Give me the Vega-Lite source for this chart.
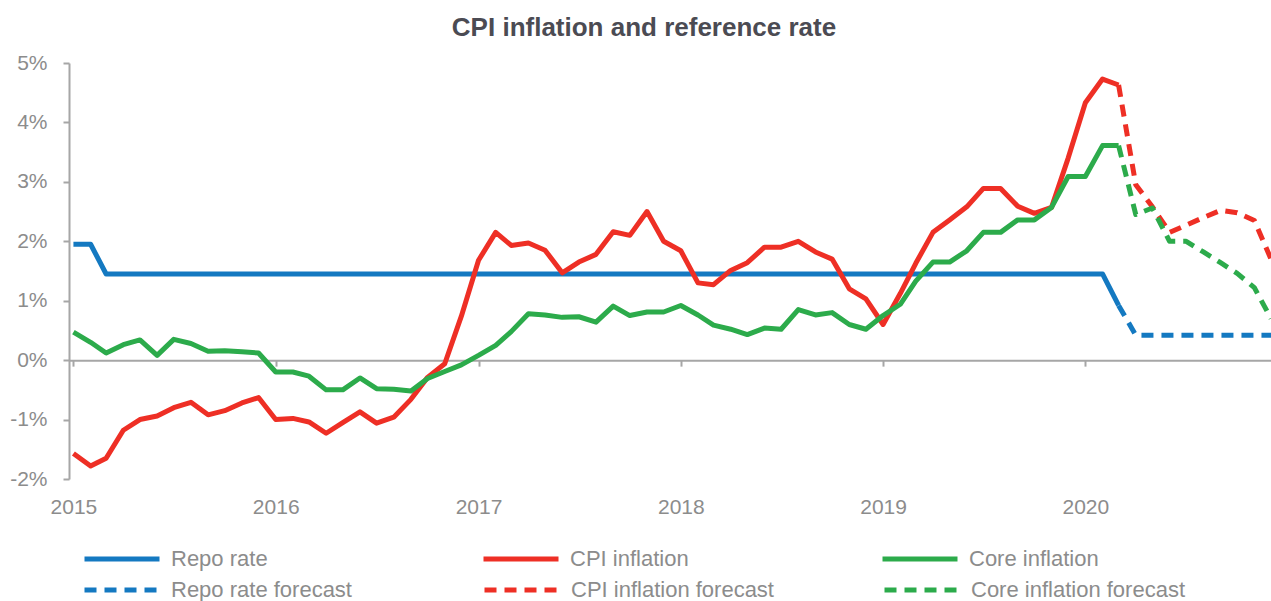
{
  "$schema": "https://vega.github.io/schema/vega-lite/v6.json",
  "width": 1202,
  "height": 416,
  "autosize": {"type": "none"},
  "padding": {"left": 69, "top": 63, "right": 0, "bottom": 122},
  "background": "white",
  "config": {"view": {"stroke": null}, "font": "Liberation Sans"},
  "title": {"text": "CPI inflation and reference rate", "anchor": "middle", "font": "Liberation Sans", "fontSize": 26, "fontWeight": "bold", "color": "#4b4b53", "offset": 11, "dx": -26},
  "data": {"values": [
    {"d":"2015/01/01","s":"Repo rate","v":1.95},{"d":"2015/02/01","s":"Repo rate","v":1.95},{"d":"2015/03/01","s":"Repo rate","v":1.45},{"d":"2015/04/01","s":"Repo rate","v":1.45},{"d":"2015/05/01","s":"Repo rate","v":1.45},{"d":"2015/06/01","s":"Repo rate","v":1.45},{"d":"2015/07/01","s":"Repo rate","v":1.45},{"d":"2015/08/01","s":"Repo rate","v":1.45},{"d":"2015/09/01","s":"Repo rate","v":1.45},{"d":"2015/10/01","s":"Repo rate","v":1.45},{"d":"2015/11/01","s":"Repo rate","v":1.45},{"d":"2015/12/01","s":"Repo rate","v":1.45},
    {"d":"2016/01/01","s":"Repo rate","v":1.45},{"d":"2016/02/01","s":"Repo rate","v":1.45},{"d":"2016/03/01","s":"Repo rate","v":1.45},{"d":"2016/04/01","s":"Repo rate","v":1.45},{"d":"2016/05/01","s":"Repo rate","v":1.45},{"d":"2016/06/01","s":"Repo rate","v":1.45},{"d":"2016/07/01","s":"Repo rate","v":1.45},{"d":"2016/08/01","s":"Repo rate","v":1.45},{"d":"2016/09/01","s":"Repo rate","v":1.45},{"d":"2016/10/01","s":"Repo rate","v":1.45},{"d":"2016/11/01","s":"Repo rate","v":1.45},{"d":"2016/12/01","s":"Repo rate","v":1.45},
    {"d":"2017/01/01","s":"Repo rate","v":1.45},{"d":"2017/02/01","s":"Repo rate","v":1.45},{"d":"2017/03/01","s":"Repo rate","v":1.45},{"d":"2017/04/01","s":"Repo rate","v":1.45},{"d":"2017/05/01","s":"Repo rate","v":1.45},{"d":"2017/06/01","s":"Repo rate","v":1.45},{"d":"2017/07/01","s":"Repo rate","v":1.45},{"d":"2017/08/01","s":"Repo rate","v":1.45},{"d":"2017/09/01","s":"Repo rate","v":1.45},{"d":"2017/10/01","s":"Repo rate","v":1.45},{"d":"2017/11/01","s":"Repo rate","v":1.45},{"d":"2017/12/01","s":"Repo rate","v":1.45},
    {"d":"2018/01/01","s":"Repo rate","v":1.45},{"d":"2018/02/01","s":"Repo rate","v":1.45},{"d":"2018/03/01","s":"Repo rate","v":1.45},{"d":"2018/04/01","s":"Repo rate","v":1.45},{"d":"2018/05/01","s":"Repo rate","v":1.45},{"d":"2018/06/01","s":"Repo rate","v":1.45},{"d":"2018/07/01","s":"Repo rate","v":1.45},{"d":"2018/08/01","s":"Repo rate","v":1.45},{"d":"2018/09/01","s":"Repo rate","v":1.45},{"d":"2018/10/01","s":"Repo rate","v":1.45},{"d":"2018/11/01","s":"Repo rate","v":1.45},{"d":"2018/12/01","s":"Repo rate","v":1.45},
    {"d":"2019/01/01","s":"Repo rate","v":1.45},{"d":"2019/02/01","s":"Repo rate","v":1.45},{"d":"2019/03/01","s":"Repo rate","v":1.45},{"d":"2019/04/01","s":"Repo rate","v":1.45},{"d":"2019/05/01","s":"Repo rate","v":1.45},{"d":"2019/06/01","s":"Repo rate","v":1.45},{"d":"2019/07/01","s":"Repo rate","v":1.45},{"d":"2019/08/01","s":"Repo rate","v":1.45},{"d":"2019/09/01","s":"Repo rate","v":1.45},{"d":"2019/10/01","s":"Repo rate","v":1.45},{"d":"2019/11/01","s":"Repo rate","v":1.45},{"d":"2019/12/01","s":"Repo rate","v":1.45},
    {"d":"2020/01/01","s":"Repo rate","v":1.45},{"d":"2020/02/01","s":"Repo rate","v":1.45},{"d":"2020/03/01","s":"Repo rate","v":0.92},
    {"d":"2020/03/01","s":"Repo rate forecast","v":0.92},{"d":"2020/04/01","s":"Repo rate forecast","v":0.42},{"d":"2020/05/01","s":"Repo rate forecast","v":0.42},{"d":"2020/06/01","s":"Repo rate forecast","v":0.42},{"d":"2020/07/01","s":"Repo rate forecast","v":0.42},{"d":"2020/08/01","s":"Repo rate forecast","v":0.42},{"d":"2020/09/01","s":"Repo rate forecast","v":0.42},{"d":"2020/10/01","s":"Repo rate forecast","v":0.42},{"d":"2020/11/01","s":"Repo rate forecast","v":0.42},{"d":"2020/12/01","s":"Repo rate forecast","v":0.42},
    {"d":"2015/01/01","s":"CPI inflation","v":-1.57},{"d":"2015/02/01","s":"CPI inflation","v":-1.78},{"d":"2015/03/01","s":"CPI inflation","v":-1.65},{"d":"2015/04/01","s":"CPI inflation","v":-1.18},{"d":"2015/05/01","s":"CPI inflation","v":-1.0},{"d":"2015/06/01","s":"CPI inflation","v":-0.94},{"d":"2015/07/01","s":"CPI inflation","v":-0.8},{"d":"2015/08/01","s":"CPI inflation","v":-0.71},{"d":"2015/09/01","s":"CPI inflation","v":-0.92},{"d":"2015/10/01","s":"CPI inflation","v":-0.85},{"d":"2015/11/01","s":"CPI inflation","v":-0.72},{"d":"2015/12/01","s":"CPI inflation","v":-0.63},
    {"d":"2016/01/01","s":"CPI inflation","v":-1.0},{"d":"2016/02/01","s":"CPI inflation","v":-0.98},{"d":"2016/03/01","s":"CPI inflation","v":-1.04},{"d":"2016/04/01","s":"CPI inflation","v":-1.23},{"d":"2016/05/01","s":"CPI inflation","v":-1.05},{"d":"2016/06/01","s":"CPI inflation","v":-0.87},{"d":"2016/07/01","s":"CPI inflation","v":-1.06},{"d":"2016/08/01","s":"CPI inflation","v":-0.96},{"d":"2016/09/01","s":"CPI inflation","v":-0.66},{"d":"2016/10/01","s":"CPI inflation","v":-0.29},{"d":"2016/11/01","s":"CPI inflation","v":-0.06},{"d":"2016/12/01","s":"CPI inflation","v":0.74},
    {"d":"2017/01/01","s":"CPI inflation","v":1.68},{"d":"2017/02/01","s":"CPI inflation","v":2.15},{"d":"2017/03/01","s":"CPI inflation","v":1.93},{"d":"2017/04/01","s":"CPI inflation","v":1.97},{"d":"2017/05/01","s":"CPI inflation","v":1.85},{"d":"2017/06/01","s":"CPI inflation","v":1.47},{"d":"2017/07/01","s":"CPI inflation","v":1.65},{"d":"2017/08/01","s":"CPI inflation","v":1.78},{"d":"2017/09/01","s":"CPI inflation","v":2.16},{"d":"2017/10/01","s":"CPI inflation","v":2.1},{"d":"2017/11/01","s":"CPI inflation","v":2.5},{"d":"2017/12/01","s":"CPI inflation","v":2.0},
    {"d":"2018/01/01","s":"CPI inflation","v":1.84},{"d":"2018/02/01","s":"CPI inflation","v":1.3},{"d":"2018/03/01","s":"CPI inflation","v":1.27},{"d":"2018/04/01","s":"CPI inflation","v":1.51},{"d":"2018/05/01","s":"CPI inflation","v":1.64},{"d":"2018/06/01","s":"CPI inflation","v":1.9},{"d":"2018/07/01","s":"CPI inflation","v":1.9},{"d":"2018/08/01","s":"CPI inflation","v":2.0},{"d":"2018/09/01","s":"CPI inflation","v":1.82},{"d":"2018/10/01","s":"CPI inflation","v":1.7},{"d":"2018/11/01","s":"CPI inflation","v":1.2},{"d":"2018/12/01","s":"CPI inflation","v":1.03},
    {"d":"2019/01/01","s":"CPI inflation","v":0.6},{"d":"2019/02/01","s":"CPI inflation","v":1.12},{"d":"2019/03/01","s":"CPI inflation","v":1.63},{"d":"2019/04/01","s":"CPI inflation","v":2.15},{"d":"2019/05/01","s":"CPI inflation","v":2.36},{"d":"2019/06/01","s":"CPI inflation","v":2.58},{"d":"2019/07/01","s":"CPI inflation","v":2.89},{"d":"2019/08/01","s":"CPI inflation","v":2.89},{"d":"2019/09/01","s":"CPI inflation","v":2.59},{"d":"2019/10/01","s":"CPI inflation","v":2.47},{"d":"2019/11/01","s":"CPI inflation","v":2.57},{"d":"2019/12/01","s":"CPI inflation","v":3.4},
    {"d":"2020/01/01","s":"CPI inflation","v":4.33},{"d":"2020/02/01","s":"CPI inflation","v":4.73},{"d":"2020/03/01","s":"CPI inflation","v":4.63},
    {"d":"2020/03/01","s":"CPI inflation forecast","v":4.63},{"d":"2020/04/01","s":"CPI inflation forecast","v":2.95},{"d":"2020/05/01","s":"CPI inflation forecast","v":2.58},{"d":"2020/06/01","s":"CPI inflation forecast","v":2.15},{"d":"2020/07/01","s":"CPI inflation forecast","v":2.27},{"d":"2020/08/01","s":"CPI inflation forecast","v":2.4},{"d":"2020/09/01","s":"CPI inflation forecast","v":2.52},{"d":"2020/10/01","s":"CPI inflation forecast","v":2.48},{"d":"2020/11/01","s":"CPI inflation forecast","v":2.35},{"d":"2020/12/01","s":"CPI inflation forecast","v":1.7},
    {"d":"2015/01/01","s":"Core inflation","v":0.47},{"d":"2015/02/01","s":"Core inflation","v":0.3},{"d":"2015/03/01","s":"Core inflation","v":0.12},{"d":"2015/04/01","s":"Core inflation","v":0.26},{"d":"2015/05/01","s":"Core inflation","v":0.34},{"d":"2015/06/01","s":"Core inflation","v":0.08},{"d":"2015/07/01","s":"Core inflation","v":0.35},{"d":"2015/08/01","s":"Core inflation","v":0.28},{"d":"2015/09/01","s":"Core inflation","v":0.15},{"d":"2015/10/01","s":"Core inflation","v":0.16},{"d":"2015/11/01","s":"Core inflation","v":0.14},{"d":"2015/12/01","s":"Core inflation","v":0.12},
    {"d":"2016/01/01","s":"Core inflation","v":-0.2},{"d":"2016/02/01","s":"Core inflation","v":-0.2},{"d":"2016/03/01","s":"Core inflation","v":-0.27},{"d":"2016/04/01","s":"Core inflation","v":-0.5},{"d":"2016/05/01","s":"Core inflation","v":-0.5},{"d":"2016/06/01","s":"Core inflation","v":-0.3},{"d":"2016/07/01","s":"Core inflation","v":-0.48},{"d":"2016/08/01","s":"Core inflation","v":-0.49},{"d":"2016/09/01","s":"Core inflation","v":-0.52},{"d":"2016/10/01","s":"Core inflation","v":-0.31},{"d":"2016/11/01","s":"Core inflation","v":-0.19},{"d":"2016/12/01","s":"Core inflation","v":-0.08},
    {"d":"2017/01/01","s":"Core inflation","v":0.08},{"d":"2017/02/01","s":"Core inflation","v":0.25},{"d":"2017/03/01","s":"Core inflation","v":0.48},{"d":"2017/04/01","s":"Core inflation","v":0.78},{"d":"2017/05/01","s":"Core inflation","v":0.76},{"d":"2017/06/01","s":"Core inflation","v":0.72},{"d":"2017/07/01","s":"Core inflation","v":0.73},{"d":"2017/08/01","s":"Core inflation","v":0.64},{"d":"2017/09/01","s":"Core inflation","v":0.91},{"d":"2017/10/01","s":"Core inflation","v":0.75},{"d":"2017/11/01","s":"Core inflation","v":0.81},{"d":"2017/12/01","s":"Core inflation","v":0.81},
    {"d":"2018/01/01","s":"Core inflation","v":0.92},{"d":"2018/02/01","s":"Core inflation","v":0.76},{"d":"2018/03/01","s":"Core inflation","v":0.59},{"d":"2018/04/01","s":"Core inflation","v":0.52},{"d":"2018/05/01","s":"Core inflation","v":0.43},{"d":"2018/06/01","s":"Core inflation","v":0.54},{"d":"2018/07/01","s":"Core inflation","v":0.52},{"d":"2018/08/01","s":"Core inflation","v":0.85},{"d":"2018/09/01","s":"Core inflation","v":0.76},{"d":"2018/10/01","s":"Core inflation","v":0.8},{"d":"2018/11/01","s":"Core inflation","v":0.6},{"d":"2018/12/01","s":"Core inflation","v":0.52},
    {"d":"2019/01/01","s":"Core inflation","v":0.75},{"d":"2019/02/01","s":"Core inflation","v":0.94},{"d":"2019/03/01","s":"Core inflation","v":1.33},{"d":"2019/04/01","s":"Core inflation","v":1.65},{"d":"2019/05/01","s":"Core inflation","v":1.65},{"d":"2019/06/01","s":"Core inflation","v":1.84},{"d":"2019/07/01","s":"Core inflation","v":2.15},{"d":"2019/08/01","s":"Core inflation","v":2.15},{"d":"2019/09/01","s":"Core inflation","v":2.36},{"d":"2019/10/01","s":"Core inflation","v":2.36},{"d":"2019/11/01","s":"Core inflation","v":2.57},{"d":"2019/12/01","s":"Core inflation","v":3.09},
    {"d":"2020/01/01","s":"Core inflation","v":3.09},{"d":"2020/02/01","s":"Core inflation","v":3.61},{"d":"2020/03/01","s":"Core inflation","v":3.61},
    {"d":"2020/03/01","s":"Core inflation forecast","v":3.61},{"d":"2020/04/01","s":"Core inflation forecast","v":2.45},{"d":"2020/05/01","s":"Core inflation forecast","v":2.56},{"d":"2020/06/01","s":"Core inflation forecast","v":2.0},{"d":"2020/07/01","s":"Core inflation forecast","v":2.0},{"d":"2020/08/01","s":"Core inflation forecast","v":1.82},{"d":"2020/09/01","s":"Core inflation forecast","v":1.64},{"d":"2020/10/01","s":"Core inflation forecast","v":1.46},{"d":"2020/11/01","s":"Core inflation forecast","v":1.22},{"d":"2020/12/01","s":"Core inflation forecast","v":0.7}
  ]},
  "layer": [
    {
      "mark": {"type": "line", "opacity": 0},
      "encoding": {
        "x": {"field": "d", "type": "temporal",
          "scale": {"domain": [{"year": 2014, "month": 12, "date": 24}, {"year": 2020, "month": 12, "date": 1}]},
          "axis": {"orient": "bottom", "title": null, "values": [{"year": 2015, "month": 1, "date": 1}, {"year": 2016, "month": 1, "date": 1}, {"year": 2017, "month": 1, "date": 1}, {"year": 2018, "month": 1, "date": 1}, {"year": 2019, "month": 1, "date": 1}, {"year": 2020, "month": 1, "date": 1}],
            "labels": false, "grid": false, "domain": true, "domainColor": "#a6a6a6", "domainWidth": 2, "ticks": true, "tickColor": "#a6a6a6", "tickWidth": 2, "tickSize": 6, "offset": -118.86}},
        "y": {"field": "v", "type": "quantitative"},
        "detail": {"field": "s", "type": "nominal"}
      }
    },
    {
      "transform": [{"filter": {"field": "s", "oneOf": ["Repo rate", "CPI inflation", "Core inflation"]}}],
      "mark": {"type": "line", "strokeWidth": 5, "strokeJoin": "round", "strokeCap": "butt"},
      "encoding": {
        "x": {"field": "d", "type": "temporal",
          "axis": {"orient": "bottom", "title": null, "values": [{"year": 2015, "month": 1, "date": 1}, {"year": 2016, "month": 1, "date": 1}, {"year": 2017, "month": 1, "date": 1}, {"year": 2018, "month": 1, "date": 1}, {"year": 2019, "month": 1, "date": 1}, {"year": 2020, "month": 1, "date": 1}],
            "format": "%Y", "labelFlush": false, "labelOverlap": false, "grid": false, "domain": false, "ticks": false, "labelFontSize": 21, "labelColor": "#8c8c8c", "labelPadding": 17, "labelFont": "Liberation Sans"}},
        "y": {"field": "v", "type": "quantitative",
          "scale": {"domain": [-2, 5], "nice": false, "zero": false},
          "axis": {"title": null, "values": [-2, -1, 0, 1, 2, 3, 4, 5], "labelExpr": "datum.value + '%'", "grid": false, "domainColor": "#a6a6a6", "domainWidth": 2, "tickColor": "#a6a6a6", "tickWidth": 2, "tickSize": 6, "labelFontSize": 21, "labelColor": "#8c8c8c", "labelPadding": 16, "labelFont": "Liberation Sans"}},
        "color": {"field": "s", "type": "nominal",
          "scale": {"domain": ["Repo rate", "CPI inflation", "Core inflation"], "range": ["#1479c1", "#ee2f25", "#2cab4b"]},
          "legend": {"orient": "none", "legendX": 13, "legendY": 456, "direction": "horizontal", "columns": 3, "title": null, "symbolType": "stroke", "symbolSize": 5625, "symbolStrokeWidth": 5, "labelFontSize": 22, "labelColor": "#8c8c8c", "labelFont": "Liberation Sans", "labelOffset": 9, "columnPadding": 172, "gridAlign": "all", "labelLimit": 400}}
      }
    },
    {
      "transform": [{"filter": {"field": "s", "oneOf": ["Repo rate forecast", "CPI inflation forecast", "Core inflation forecast"]}}],
      "mark": {"type": "line", "strokeWidth": 5, "strokeJoin": "round", "strokeCap": "butt", "strokeDash": [12, 8]},
      "encoding": {
        "x": {"field": "d", "type": "temporal", "axis": null},
        "y": {"field": "v", "type": "quantitative"},
        "color": {"field": "s", "type": "nominal",
          "scale": {"domain": ["Repo rate forecast", "CPI inflation forecast", "Core inflation forecast"], "range": ["#1479c1", "#ee2f25", "#2cab4b"]},
          "legend": {"orient": "none", "legendX": 13, "legendY": 487, "direction": "horizontal", "columns": 3, "title": null, "symbolType": "stroke", "symbolSize": 5625, "symbolStrokeWidth": 5, "symbolDash": [12, 8], "labelFontSize": 22, "labelColor": "#8c8c8c", "labelFont": "Liberation Sans", "labelOffset": 9, "columnPadding": 89, "gridAlign": "all", "labelLimit": 400}}
      }
    }
  ],
  "resolve": {"axis": {"x": "independent"}, "scale": {"color": "independent"}, "legend": {"color": "independent"}}
}
